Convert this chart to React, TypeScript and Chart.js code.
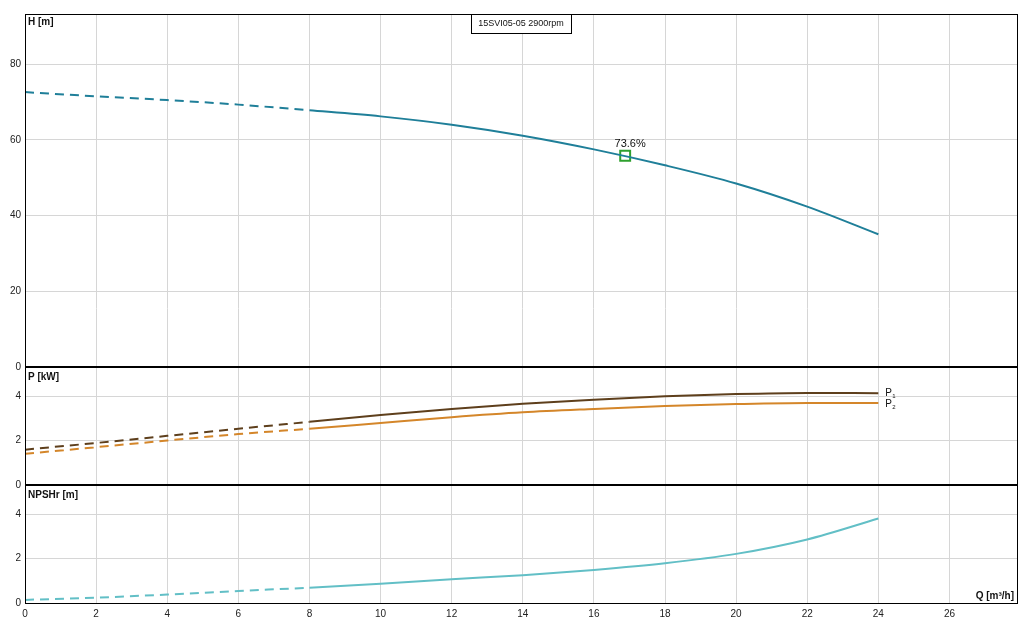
import { useEffect, useRef } from "react"
import { Chart, registerables } from "chart.js"

Chart.register(...registerables)

// flow points (m³/h)
const flow = [0, 2, 4, 6, 8, 10, 12, 14, 16, 18, 20, 22, 24]
const head = [72.6, 71.5, 70.5, 69.3, 67.8, 66.2, 64.0, 61.1, 57.5, 53.3, 48.5, 42.4, 35.1]
const powerP1 = [1.6, 1.9, 2.22, 2.54, 2.85, 3.16, 3.43, 3.67, 3.85, 4.0, 4.1, 4.15, 4.14]
const powerP2 = [1.41, 1.71, 2.01, 2.3, 2.54, 2.8, 3.06, 3.28, 3.43, 3.56, 3.65, 3.7, 3.7]
const npshr = [0.14, 0.24, 0.38, 0.54, 0.69, 0.87, 1.07, 1.25, 1.49, 1.79, 2.21, 2.86, 3.8]

const dutyPoint = { q: 16.88, h: 55.8, label: "73.6%" }
const dashedUpTo = 8

const xTicks = [0, 2, 4, 6, 8, 10, 12, 14, 16, 18, 20, 22, 24, 26]
const hTicks = [0, 20, 40, 60, 80]
const pTicks = [0, 2, 4]
const npshTicks = [0, 2, 4]

const title = "15SVI05-05 2900rpm"
const FONT = "'Liberation Sans', Arial, sans-serif"

const toPoints = (ys: number[]) => flow.map((q, i) => ({ x: q, y: ys[i] }))

const dashSegment = {
  borderDash: (ctx: any) => (ctx.p1.parsed.x <= dashedUpTo ? [9, 6] : undefined),
}

const panelPlugin = {
  id: "panels",
  afterDatasetsDraw(chart: any) {
    const { ctx, chartArea, scales } = chart
    const { left, right, top, bottom } = chartArea
    ctx.save()

    // axis captions inside the panels
    ctx.fillStyle = "#111"
    ctx.font = `bold 10px ${FONT}`
    ctx.textAlign = "left"
    ctx.textBaseline = "middle"
    ctx.fillText("H [m]", left + 3, scales.h.top + 8)
    ctx.fillText("P [kW]", left + 3, scales.p.top + 10)
    ctx.fillText("NPSHr [m]", left + 3, scales.npsh.top + 10)
    ctx.textAlign = "right"
    ctx.fillText("Q [m³/h]", right - 3, bottom - 7)

    // P1 / P2 labels at curve ends
    const lastQ = flow[flow.length - 1]
    const px = scales.x.getPixelForValue(lastQ) + 7
    const drawP = (sub: string, y: number) => {
      ctx.textAlign = "left"
      ctx.font = `10px ${FONT}`
      ctx.fillText("P", px, y)
      ctx.font = `6px ${FONT}`
      ctx.fillText(sub, px + 7, y + 3)
    }
    drawP("1", scales.p.getPixelForValue(powerP1[powerP1.length - 1]))
    drawP("2", scales.p.getPixelForValue(powerP2[powerP2.length - 1]) + 1)

    // efficiency label
    ctx.font = `11px ${FONT}`
    ctx.textAlign = "center"
    ctx.fillText(
      dutyPoint.label,
      scales.x.getPixelForValue(dutyPoint.q) + 5,
      scales.h.getPixelForValue(dutyPoint.h) - 12
    )

    // title box
    ctx.font = `9px ${FONT}`
    const bx = 471
    const bw = 100
    ctx.fillStyle = "#fff"
    ctx.fillRect(bx, top, bw, 19)
    ctx.strokeStyle = "#000"
    ctx.lineWidth = 1
    ctx.strokeRect(bx + 0.5, top + 0.5, bw, 19)
    ctx.fillStyle = "#111"
    ctx.fillText(title, bx + bw / 2, top + 10)

    // panel borders
    ctx.strokeStyle = "#000"
    ctx.lineWidth = 1
    ctx.strokeRect(left + 0.5, top + 0.5, right - left, bottom - top)
    ctx.lineWidth = 2
    for (const y of [scales.h.bottom, scales.p.bottom]) {
      ctx.beginPath()
      ctx.moveTo(left, Math.round(y))
      ctx.lineTo(right, Math.round(y))
      ctx.stroke()
    }
    ctx.restore()
  },
}

const yScale = (ticks: number[], max: number, weight: number) => ({
  type: "linear" as const,
  position: "left" as const,
  stack: "pump",
  stackWeight: weight,
  min: 0,
  max,
  border: { display: false },
  grid: { color: "#d6d6d6", drawTicks: false },
  ticks: { padding: 4, color: "#222", font: { family: FONT, size: 10 } },
  afterBuildTicks: (scale: any) => {
    scale.ticks = ticks.map((v) => ({ value: v }))
  },
  afterFit: (scale: any) => {
    scale.width = 25
  },
})

export default function App() {
  const chartRef = useRef<HTMLCanvasElement>(null)
  const chartInstance = useRef<Chart | null>(null)

  useEffect(() => {
    if (!chartRef.current) return
    if (chartInstance.current) chartInstance.current.destroy()
    const ctx = chartRef.current.getContext("2d")
    if (!ctx) return

    chartInstance.current = new Chart(ctx, {
      type: "line",
      data: {
        datasets: [
          {
            label: "H",
            data: toPoints(head),
            yAxisID: "h",
            borderColor: "#1f7f99",
            borderWidth: 2,
            pointRadius: 0,
            cubicInterpolationMode: "monotone",
            segment: dashSegment,
          },
          {
            label: "duty",
            data: [{ x: dutyPoint.q, y: dutyPoint.h }],
            yAxisID: "h",
            showLine: false,
            pointStyle: "rect",
            pointRadius: 7,
            pointBorderWidth: 2,
            pointBorderColor: "#2ea02e",
            pointBackgroundColor: "rgba(0,0,0,0)",
          },
          {
            label: "P1",
            data: toPoints(powerP1),
            yAxisID: "p",
            borderColor: "#5e3f1c",
            borderWidth: 2,
            pointRadius: 0,
            cubicInterpolationMode: "monotone",
            segment: dashSegment,
          },
          {
            label: "P2",
            data: toPoints(powerP2),
            yAxisID: "p",
            borderColor: "#d4862a",
            borderWidth: 2,
            pointRadius: 0,
            cubicInterpolationMode: "monotone",
            segment: dashSegment,
          },
          {
            label: "NPSHr",
            data: toPoints(npshr),
            yAxisID: "npsh",
            borderColor: "#62bfc6",
            borderWidth: 2,
            pointRadius: 0,
            cubicInterpolationMode: "monotone",
            segment: dashSegment,
          },
        ],
      },
      options: {
        responsive: false,
        animation: false,
        layout: { padding: { top: 14, right: 15, left: 0, bottom: 0 } },
        plugins: {
          legend: { display: false },
          tooltip: { enabled: false },
        },
        scales: {
          x: {
            type: "linear",
            min: 0,
            max: 27.9,
            border: { display: false },
            grid: { color: "#d6d6d6", drawTicks: false },
            ticks: { padding: 5, color: "#222", font: { family: FONT, size: 10 }, maxRotation: 0 },
            afterBuildTicks: (scale: any) => {
              scale.ticks = xTicks.map((v) => ({ value: v }))
            },
            afterFit: (scale: any) => {
              scale.height = 22
            },
          },
          npsh: yScale(npshTicks, 5.3, 1),
          p: yScale(pTicks, 5.3, 1),
          h: yScale(hTicks, 93.2, 3),
        },
      },
      plugins: [panelPlugin],
    })

    return () => {
      if (chartInstance.current) chartInstance.current.destroy()
    }
  }, [])

  return (
    <div style={{ position: "absolute", left: 0, top: 0, width: 1032, height: 625, background: "#fff" }}>
      <canvas ref={chartRef} width={1032} height={625} />
    </div>
  )
}
